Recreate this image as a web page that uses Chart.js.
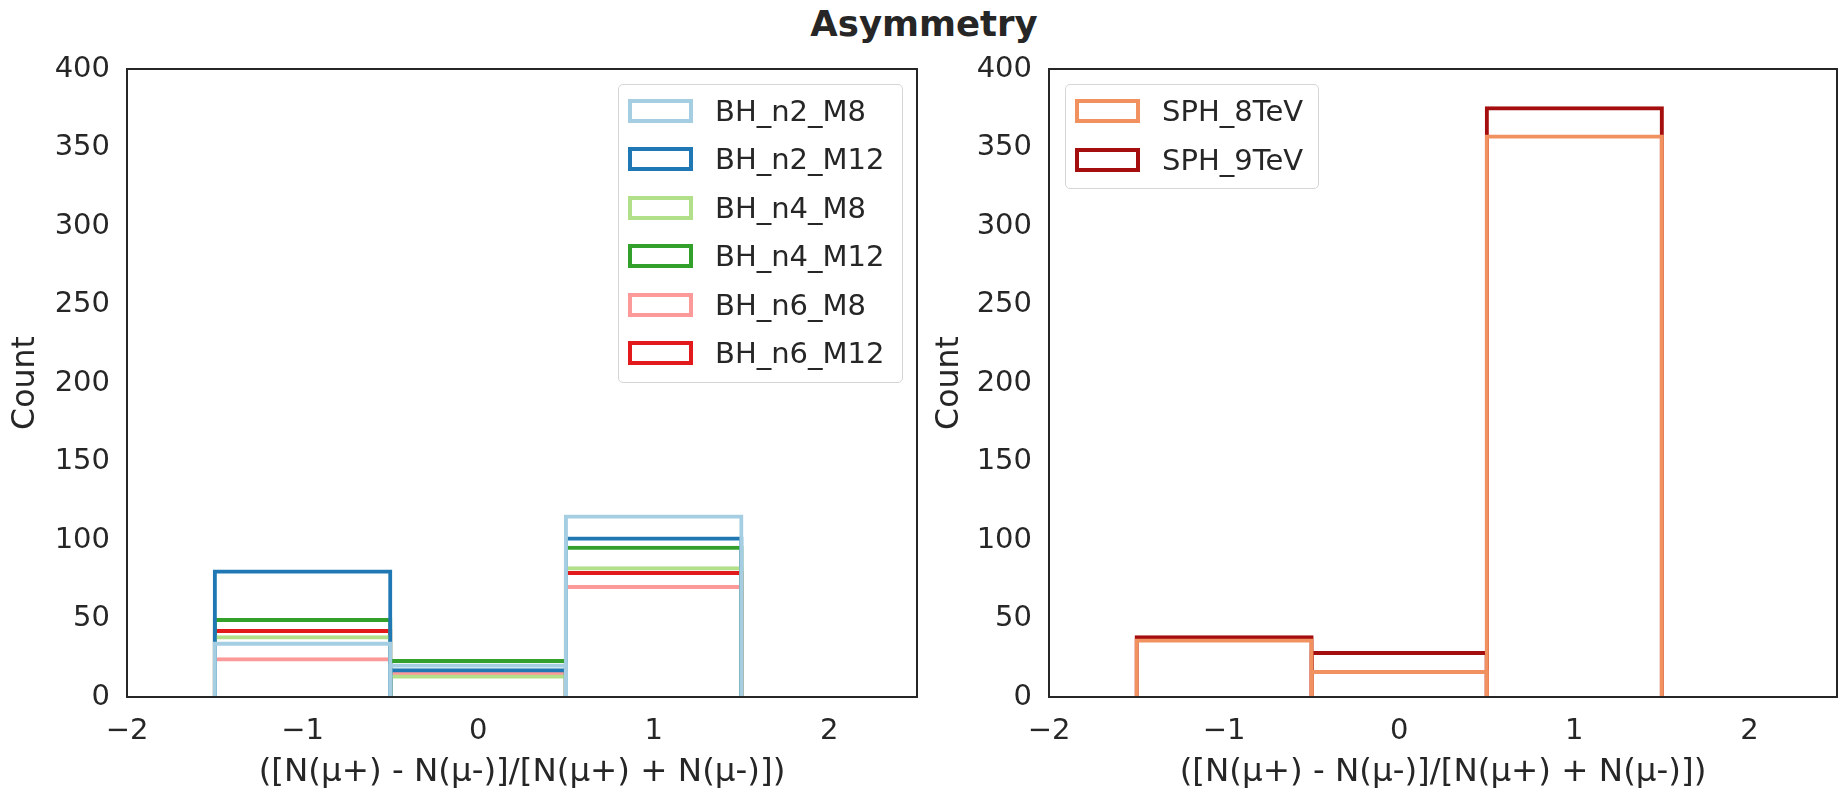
<!DOCTYPE html>
<html><head><meta charset="utf-8">
<script src="https://cdn.jsdelivr.net/npm/chart.js@4.4.1/dist/chart.umd.min.js"></script>
<style>
html,body{margin:0;padding:0;background:#fff;width:1839px;height:789px;overflow:hidden;position:relative;font-family:'DejaVu Sans',sans-serif;color:#262626}
canvas{position:absolute;top:0}
#title{position:absolute;top:6px;left:924px;transform:translateX(-50%);font-weight:bold;font-size:35.5px;line-height:35.5px;white-space:nowrap}
.legend{position:absolute;border:1px solid #d5d5d5;border-radius:5px;background:rgba(255,255,255,0.8);box-sizing:border-box}
.row{position:absolute;left:0;height:0}
.patch{position:absolute;left:9px;top:-12px;width:65px;height:24px;box-sizing:border-box;border:4px solid}
.lbl{position:absolute;left:96px;top:-14px;font-size:29px;line-height:29px;white-space:nowrap}
</style>
</head><body>
<div id="title">Asymmetry</div>
<canvas id="c1" width="930" height="789" style="left:0px"></canvas>
<canvas id="c2" width="914" height="789" style="left:925px"></canvas>
<div id="leg1" class="legend" style="left:618px;top:84px;width:285px;height:299px"></div>
<div id="leg2" class="legend" style="left:1065px;top:84px;width:254px;height:105px"></div>
<script>
// ---- data ----
const bins = [-1, 0, 1];
const xTicks = [-2, -1, 0, 1, 2];
const yTicks = [0, 50, 100, 150, 200, 250, 300, 350, 400];
const xTitle = '([N(\u03bc+) - N(\u03bc-)]/[N(\u03bc+) + N(\u03bc-)])';
const yTitle = 'Count';

const bhLabels = ['BH_n2_M8', 'BH_n2_M12', 'BH_n4_M8', 'BH_n4_M12', 'BH_n6_M8', 'BH_n6_M12'];
const bhColors = ['#a6cee3', '#1f78b4', '#b2df8a', '#33a02c', '#fb9a99', '#e31a1c'];
const bhN2M8  = [34, 20, 115];
const bhN2M12 = [80, 17, 101];
const bhN4M8  = [38, 13, 82];
const bhN4M12 = [49, 23, 95];
const bhN6M8  = [24, 15, 70];
const bhN6M12 = [42, 14, 79];

const sphLabels = ['SPH_8TeV', 'SPH_9TeV'];
const sphColors = ['#f1915f', '#a50e0e'];
const sph8TeV = [36, 16, 357];
const sph9TeV = [38, 28, 375];

// ---- chart ----
const FONT = 'DejaVu Sans';
const TXT = '#262626';
const frame = {
  id: 'frame',
  afterDatasetsDraw(c) {
    const a = c.chartArea, ctx = c.ctx;
    ctx.save();
    ctx.strokeStyle = '#262626';
    ctx.lineWidth = 2;
    ctx.strokeRect(a.left, a.top, a.right - a.left, a.bottom - a.top);
    ctx.restore();
  }
};

function makeChart(id, labels, colors, series, pad, yWidth, yTitlePad) {
  return new Chart(document.getElementById(id), {
    type: 'bar',
    data: {
      datasets: series.map((vals, i) => ({
        label: labels[i],
        data: bins.map((b, j) => ({x: b, y: vals[j]})),
        borderColor: colors[i],
        backgroundColor: 'rgba(0,0,0,0)',
        // thin border inflated both ways => stroke centred on the bar edge
        borderWidth: 0.01,
        inflateAmount: 2,
        borderSkipped: 'start',
        grouped: false,
        categoryPercentage: 1,
        barPercentage: 1
      }))
    },
    options: {
      responsive: false,
      animation: false,
      devicePixelRatio: 1,
      layout: {padding: pad},
      plugins: {legend: {display: false}, tooltip: {enabled: false}, title: {display: false}},
      scales: {
        x: {
          type: 'linear', min: -2, max: 2.5, offset: false,
          grid: {display: false, drawTicks: false},
          border: {display: false},
          afterBuildTicks: s => { s.ticks = xTicks.map(v => ({value: v})); },
          afterFit: s => { s.height = 92; },
          ticks: {
            padding: 17, color: TXT, maxRotation: 0, autoSkip: false,
            font: {family: FONT, size: 29, lineHeight: 1.2},
            callback: v => String(v).replace('-', '\u2212')
          },
          title: {display: true, text: xTitle, color: TXT,
                  font: {family: FONT, size: 32.5, lineHeight: 1}, padding: {top: 0, bottom: 0}}
        },
        y: {
          type: 'linear', min: 0, max: 400,
          grid: {display: false, drawTicks: false},
          border: {display: false},
          afterBuildTicks: s => { s.ticks = yTicks.map(v => ({value: v})); },
          afterFit: s => { s.width = yWidth; },
          ticks: {padding: 17, color: TXT, font: {family: FONT, size: 29, lineHeight: 1.2}},
          title: {display: true, text: yTitle, color: TXT,
                  font: {family: FONT, size: 31.6, lineHeight: 1}, padding: {top: yTitlePad, bottom: 0}}
        }
      }
    },
    plugins: [frame]
  });
}

function buildLegend(chart, elId, spacing) {
  const el = document.getElementById(elId);
  chart.data.datasets.forEach((ds, i) => {
    const row = document.createElement('div');
    row.className = 'row';
    row.style.top = (26 + i * spacing) + 'px';
    const p = document.createElement('div');
    p.className = 'patch';
    p.style.borderColor = ds.borderColor;
    const t = document.createElement('div');
    t.className = 'lbl';
    t.textContent = ds.label;
    row.appendChild(p); row.appendChild(t);
    el.appendChild(row);
  });
}

const c1 = makeChart('c1', bhLabels, bhColors,
  [bhN2M8, bhN2M12, bhN4M8, bhN4M12, bhN6M8, bhN6M12],
  {top: 69, right: 13, bottom: 0, left: 0}, 127, 10);
const c2 = makeChart('c2', sphLabels, sphColors,
  [sph8TeV, sph9TeV],
  {top: 69, right: 2, bottom: 0, left: 0}, 124, 9);
buildLegend(c1, 'leg1', 48.4);
buildLegend(c2, 'leg2', 49);
</script>
</body></html>
